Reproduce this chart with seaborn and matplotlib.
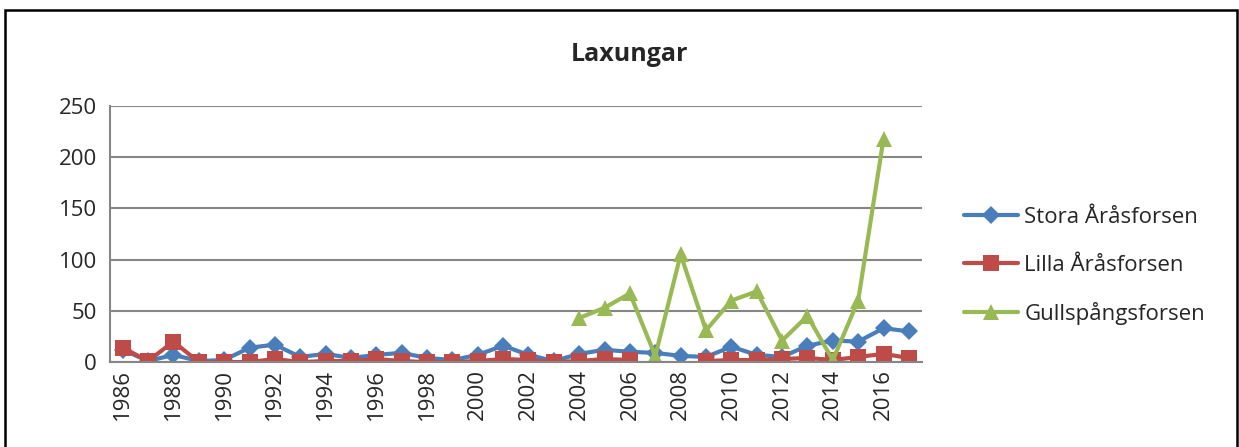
import numpy as np
import pandas as pd
import matplotlib
matplotlib.use("Agg")
import matplotlib.pyplot as plt
import seaborn as sns
from matplotlib.patches import Rectangle

# Data
years = list(range(1986, 2018))
stora = [12, 1, 7, 1, 2, 14, 17, 5, 8, 4, 7, 9, 4, 2, 7, 16,
         7, 1, 8, 12, 10, 9, 6, 5, 15, 7, 5, 16, 21, 20, 33, 30]
lilla = [14, 1, 20, 0, 0, 0, 3, 0, 1, 1, 3, 1, 0, 0, 1, 3,
         2, 0, 1, 3, 2, np.nan, np.nan, 1, 2, 2, 3, 4, 2, 5, 8, 4]
gulls = [np.nan] * 18 + [43, 53, 67, 6, 105, 31, 60, 69, 21, 45, 2, 60, 218, np.nan]

series_names = ["Stora Åråsforsen", "Lilla Åråsforsen", "Gullspångsforsen"]
colors = ["#4A7EBB", "#BE4B48", "#98B954"]
markers = ["D", "s", "^"]
msizes = [9, 12, 12]

sns.set_style("white")
plt.rcParams["font.family"] = ["Open Sans", "DejaVu Sans"]

fig = plt.figure(figsize=(12.39, 4.47), dpi=100)
ax = fig.add_axes([0.0888, 0.190, 0.655, 0.573])

idx = np.arange(len(years))
for name, vals, c, m, ms in zip(series_names, [stora, lilla, gulls], colors, markers, msizes):
    df = pd.DataFrame({"x": idx, "y": vals})
    # segment id so that missing years leave a gap in the line
    df["seg"] = df["y"].isna().cumsum()
    df = df.dropna()
    sns.lineplot(data=df, x="x", y="y", units="seg", estimator=None, ax=ax,
                 color=c, linewidth=3, marker=m, markersize=ms, markeredgewidth=0)
    ax.plot([], [], color=c, linewidth=3, marker=m, markersize=ms,
            markeredgewidth=0, label=name)

ax.set_ylim(0, 250)
ax.set_yticks(range(0, 251, 50))
ax.set_xlim(-0.5, len(years) - 0.5)
ax.set_xticks(idx[::2])
ax.set_xticklabels([str(y) for y in years[::2]], rotation=90, fontsize=16)
ax.set_xticks(np.arange(-0.5, len(years), 1), minor=True)
ax.tick_params(axis="x", which="major", length=0, pad=5)
ax.tick_params(axis="x", which="minor", length=6, color="#868686", width=1.2)
ax.tick_params(axis="y", which="major", length=6, color="#868686", width=1.2, labelsize=16)
ax.grid(axis="y", color="#868686", linewidth=1.5)
ax.set_axisbelow(True)
for s in ["top", "right"]:
    ax.spines[s].set_visible(False)
for s in ["left", "bottom"]:
    ax.spines[s].set_color("#868686")
    ax.spines[s].set_linewidth(1.5)
ax.set_xlabel("")
ax.set_ylabel("")

ax.legend(loc="center left", bbox_to_anchor=(1.028, 0.375), frameon=False,
          fontsize=16, labelspacing=1.2, handlelength=2.4, handletextpad=0.3)

fig.text(0.508, 0.877, "Laxungar", ha="center", va="center", fontsize=18, fontweight="bold")
fig.patches.append(Rectangle((0.004, -0.1), 0.994, 1.077, transform=fig.transFigure,
                             fill=False, edgecolor="black", linewidth=1.8))

fig.savefig("out.png", dpi=100)
